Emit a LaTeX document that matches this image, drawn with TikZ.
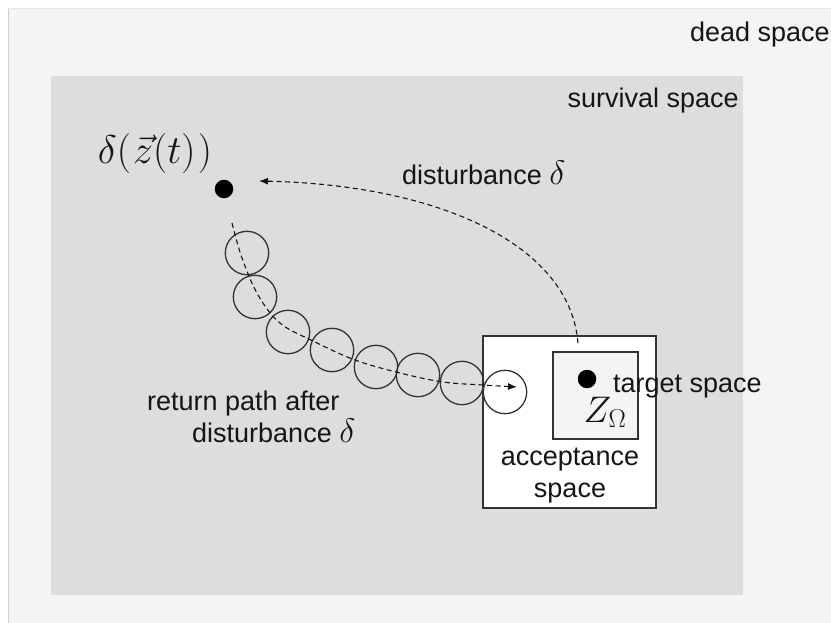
\RequirePackage{fix-cm}
\documentclass[tikz,border=0pt]{standalone}
\usepackage{fontspec}
\setmainfont{Liberation Sans}
\usetikzlibrary{arrows.meta}
\definecolor{deadbg}{HTML}{F4F4F4}
\definecolor{survbg}{HTML}{DDDDDD}
\definecolor{edge}{HTML}{333333}
\definecolor{ink}{HTML}{151515}
\definecolor{rimline}{HTML}{CDCDCD}
\definecolor{rimtop}{HTML}{E8E8E8}
\newcommand{\bigdelta}{{\fontsize{34}{34}\selectfont$\delta$}}
\tikzset{
  lbl/.style={font=\fontsize{27}{33}\selectfont, text=ink, inner sep=0pt},
  mth/.style={font=\fontsize{40}{44}\selectfont, text=ink, inner sep=0pt},
  spacebox/.style={draw=edge, line width=1.4pt, inner sep=0pt, outer sep=0pt},
  stepcirc/.style={circle, draw=edge, line width=1.3pt, minimum size=43.4pt, inner sep=0pt},
  dotnode/.style={circle, fill=black, minimum size=18.5pt, inner sep=0pt},
  dashline/.style={draw=ink, line width=1.1pt, dash pattern=on 5pt off 3.5pt},
  tip/.style={-{Latex[length=9pt,width=7pt]}}
}
\begin{document}
\begin{tikzpicture}[x=1pt,y=-1pt]
\useasboundingbox (0,0) rectangle (831,623);
% dead space
\fill[deadbg] (8,8) rectangle (831,623);
\draw[rimline, line width=1.2pt] (8.6,623) -- (8.6,8);
\draw[rimtop, line width=0.8pt] (8,8.4) -- (831,8.4);
\node[lbl, anchor=base east] (dead) at (830,42) {dead space};
% survival space
\fill[survbg] (51,76) rectangle (743,595);
\node[lbl, anchor=base east] (surv) at (739,108) {survival space};
% acceptance and target boxes
\node[spacebox, fill=white, minimum width=173pt, minimum height=172pt] (acc) at (569.5,422) {};
\node[spacebox, fill=deadbg, minimum width=85pt, minimum height=87pt] (tgt) at (595.5,395.5) {};
\node[dotnode] (tdot) at (587,379) {};
\node[lbl, anchor=base west] (tlabel) at (613,392) {target space};
\node[mth, font=\fontsize{37}{40}\selectfont, anchor=base] (zom) at (605,422) {$Z_\Omega$};
\node[lbl, anchor=base] (acc1) at (570,465) {acceptance};
\node[lbl, anchor=base] (acc2) at (570,497) {space};
% disturbed state
\node[dotnode] (zdot) at (224,189) {};
\node[mth, anchor=base] (zlabel) at (155,164) {$\delta(\mkern1mu\vec{z}(t)\mkern1mu)$};
\node[lbl, anchor=base west] (dlabel) at (402,185) {disturbance \bigdelta};
\node[lbl, anchor=base west] (ret1) at (147,410) {return path after};
\node[lbl, anchor=base west] (ret2) at (192,442) {disturbance \bigdelta};
% return circles
\foreach \n/\x/\y in {1/247/253, 2/255/297, 3/288/332, 4/332/350, 5/376/367, 6/418/375, 7/462/383, 8/505/392}
  \node[stepcirc] (c\n) at (\x,\y) {};
% disturbance path
\coordinate (dstart) at (578,343);
\coordinate (dend) at (259,181);
\draw[dashline, tip] (dstart) .. controls (570,245) and (440,185) .. (dend);
% return path
\coordinate (rstart) at (232,223);
\coordinate (r1) at (242,258);
\coordinate (r2) at (258,295);
\coordinate (r3) at (280,323);
\coordinate (r4) at (313,341);
\coordinate (r5) at (355,360);
\coordinate (r6) at (400,373);
\coordinate (r7) at (443,382);
\coordinate (r8) at (483,385);
\coordinate (rend) at (517,387);
\draw[dashline, tip] plot[smooth, tension=0.6] coordinates {(rstart) (r1) (r2) (r3) (r4) (r5) (r6) (r7) (r8) (rend)};
\end{tikzpicture}
\end{document}
